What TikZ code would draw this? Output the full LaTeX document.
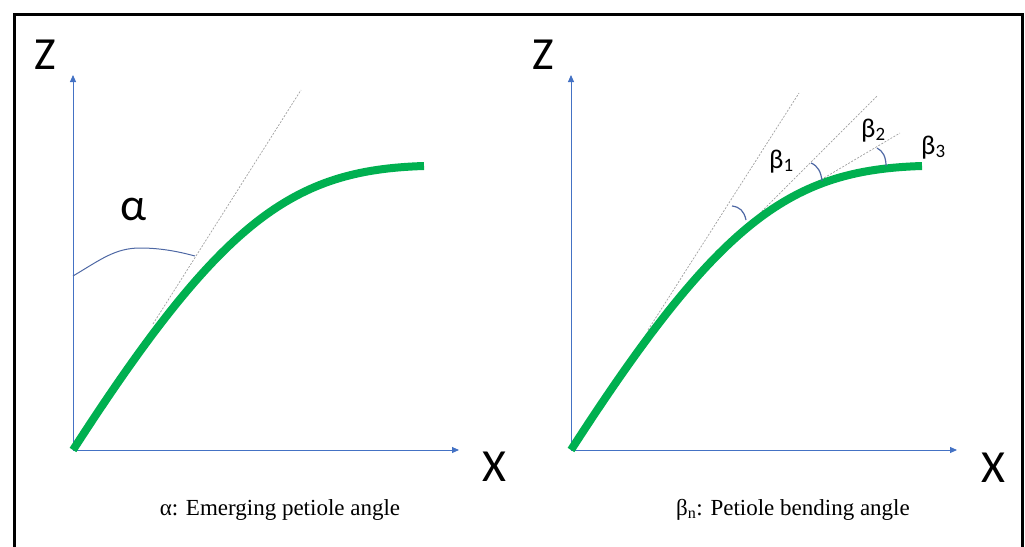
\documentclass[tikz,border=0pt]{standalone}
\usepackage{fontspec}
\setmainfont{Liberation Serif}
\newfontfamily\calib{Carlito}
\usetikzlibrary{arrows.meta}
\definecolor{axisblue}{RGB}{68,114,196}
\definecolor{leafgreen}{RGB}{0,176,80}
\definecolor{arcblue}{RGB}{78,104,164}
\definecolor{dashgray}{RGB}{160,160,160}
\begin{document}
\begin{tikzpicture}[x=1pt,y=-1pt,
  axis/.style={draw=axisblue, line width=0.9pt, -{Triangle[length=7pt,width=6pt]}},
  petiole/.style={draw=leafgreen, line width=8pt},
  tangent/.style={draw=dashgray, line width=0.7pt, dash pattern=on 2pt off 1.5pt},
  anglemark/.style={draw=arcblue, line width=1.2pt},
  axlabel/.style={font=\calib\fontsize{46}{46}\selectfont, inner sep=0pt},
  blabel/.style={font=\calib\fontsize{27}{27}\selectfont, inner sep=0pt, anchor=base west},
  caption/.style={font=\fontsize{23}{23}\selectfont, inner sep=0pt, anchor=base}]
\useasboundingbox (0,0) rectangle (1025,546);
\begin{scope}
  \clip (0,0) rectangle (1025,546);
  \draw[line width=3pt] (14,560) -- (14,14) -- (1022,14) -- (1022,560);
\end{scope}
% ---------- left panel ----------
\coordinate (O1) at (73,450);
\coordinate (Z1) at (73,75);
\coordinate (X1) at (459,450);
\draw[axis] (O1) -- (Z1);
\draw[axis] (O1) -- (X1);
\node[axlabel] (zlab1) at (45,55) {Z};
\node[axlabel] (xlab1) at (494,467) {X};
\begin{scope}[shift={(73,450)}]
  \coordinate (T1a) at (80,-126);
  \coordinate (T1b) at (228,-360);
  \draw[tangent] (T1a) -- (T1b);
  \draw[petiole] (0,0) .. controls (150,-232.5) and (221,-280) .. (351,-284);
\end{scope}
\coordinate (A0) at (73,276);
\coordinate (A1) at (140,248);
\coordinate (A2) at (195,256);
\draw[anglemark, line width=1pt] (A0) .. controls (100,260) and (115,248) .. (A1)
  .. controls (162,248) and (180,252) .. (A2);
\node[axlabel] (alpha) at (134,209) {α};
\node[caption] (cap1) at (280,515) {α: Emerging petiole angle};
% ---------- right panel ----------
\coordinate (O2) at (571,450);
\coordinate (Z2) at (571,75);
\coordinate (X2) at (957,450);
\draw[axis] (O2) -- (Z2);
\draw[axis] (O2) -- (X2);
\node[axlabel] (zlab2) at (543,55) {Z};
\node[axlabel] (xlab2) at (993,468) {X};
\begin{scope}[shift={(571,450)}]
  \coordinate (L1a) at (77,-120);
  \coordinate (L1b) at (228,-357);
  \coordinate (L2a) at (151,-199);
  \coordinate (L2b) at (306,-354);
  \coordinate (L3a) at (214,-249);
  \coordinate (L3b) at (329,-317);
  \draw[tangent] (L1a) -- (L1b);
  \draw[tangent] (L2a) -- (L2b);
  \draw[tangent] (L3a) -- (L3b);
  \draw[petiole] (0,0) .. controls (150,-232.5) and (221,-280) .. (351,-284);
\end{scope}
\coordinate (B1a) at (732,206);
\coordinate (B1b) at (746,220);
\coordinate (B2a) at (811,163);
\coordinate (B2b) at (822,181);
\coordinate (B3a) at (877,148);
\coordinate (B3b) at (886,166);
\draw[anglemark] (B1a) .. controls (740,207) and (744,211) .. (B1b);
\draw[anglemark] (B2a) .. controls (818,166) and (821,172) .. (B2b);
\draw[anglemark] (B3a) .. controls (883,151) and (886,157) .. (B3b);
\node[blabel] (beta1) at (769,168) {β\textsubscript{1}};
\node[blabel] (beta2) at (861,137) {β\textsubscript{2}};
\node[blabel] (beta3) at (921,154) {β\textsubscript{3}};
\node[caption] (cap2) at (793,515) {β\textsubscript{n}: Petiole bending angle};
\end{tikzpicture}
\end{document}
